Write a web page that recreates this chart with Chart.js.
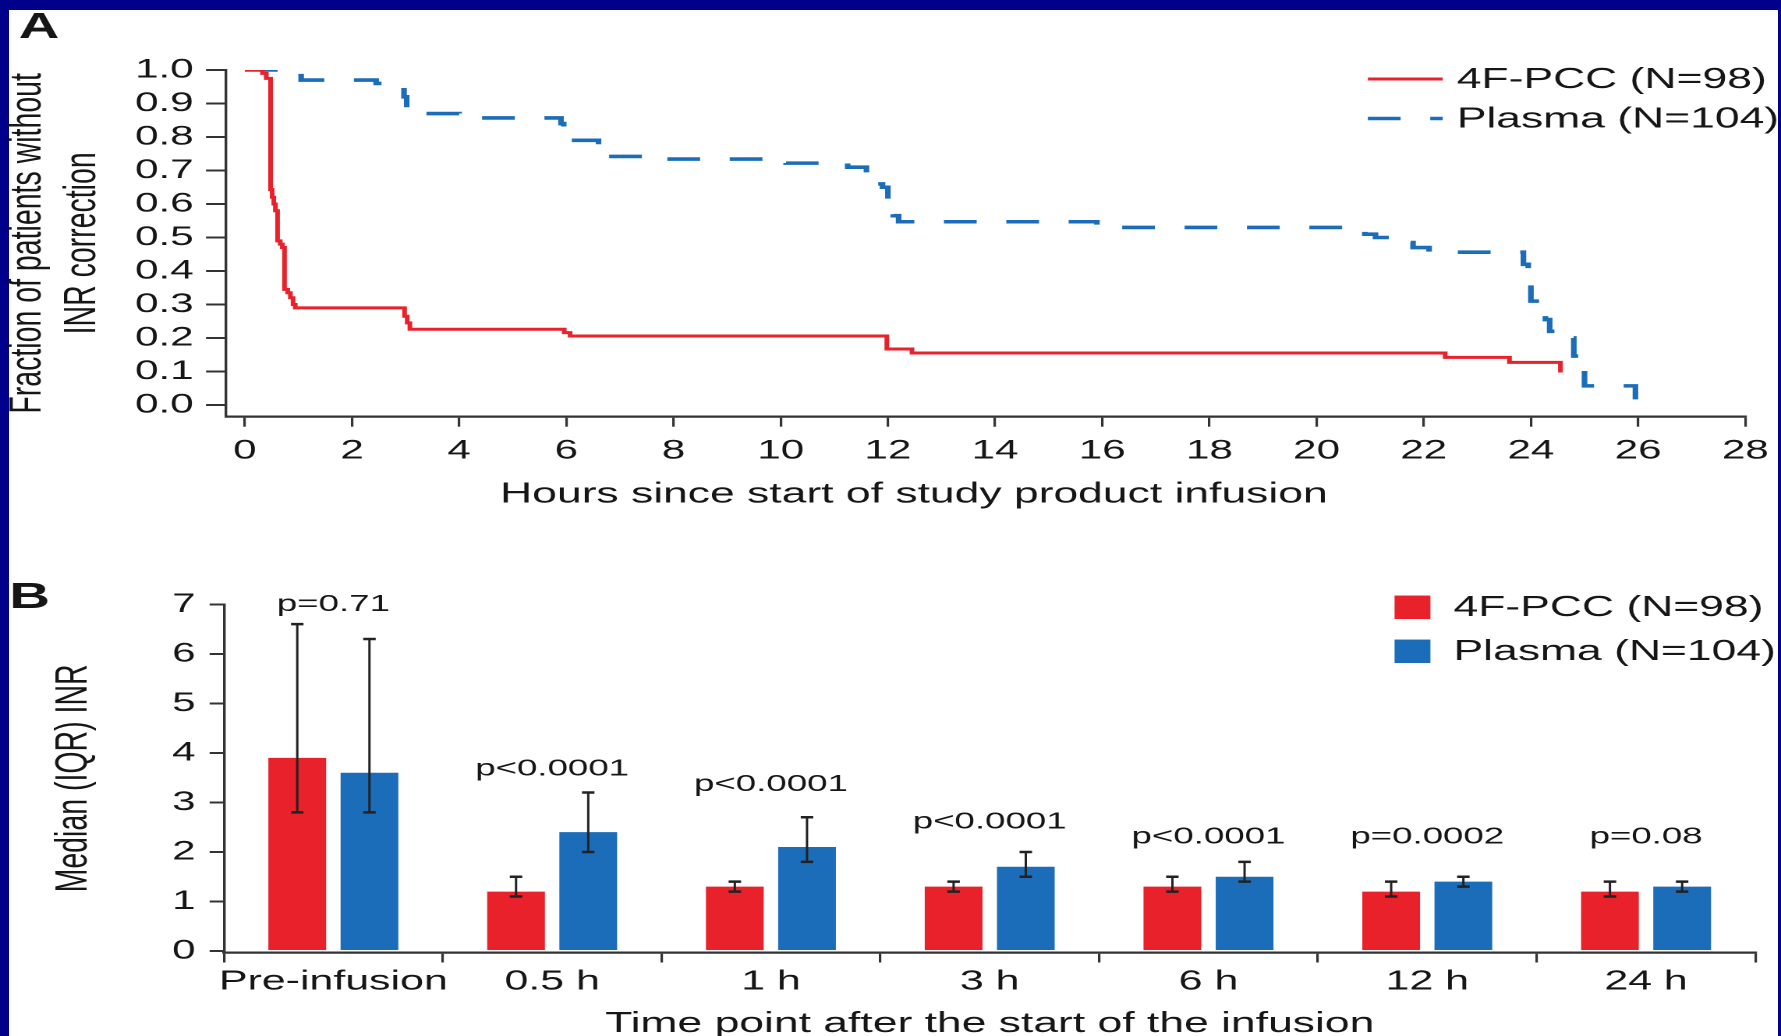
<!DOCTYPE html>
<html>
<head>
<meta charset="utf-8">
<script src="https://cdn.jsdelivr.net/npm/chart.js@4.4.0/dist/chart.umd.min.js"></script>
<style>
  html, body { margin: 0; padding: 0; }
  body { width: 1781px; height: 1036px; background: #00008b; position: relative; overflow: hidden; }
  #panel { position: absolute; left: 9px; top: 10px; width: 1769px; height: 1026px; background: #fff; }
  canvas { position: absolute; left: 0; }
</style>
</head>
<body>
<div id="panel"></div>
<!-- the figure is horizontally stretched, so each canvas is drawn narrower and widened by CSS -->
<canvas id="chartA" width="1142" height="520" style="top:0;width:1781px;height:520px"></canvas>
<canvas id="chartB" width="1142" height="516" style="top:520px;width:1781px;height:516px"></canvas>
<script>
// Panel A: fraction of patients without INR correction (step curves)
const hourTicks = [0, 2, 4, 6, 8, 10, 12, 14, 16, 18, 20, 22, 24, 26, 28];
const fractionTicks = [0, 0.1, 0.2, 0.3, 0.4, 0.5, 0.6, 0.7, 0.8, 0.9, 1.0];

const pccHours = [0, 0.33, 0.40, 0.48, 0.51, 0.54, 0.57, 0.61, 0.66, 0.70, 0.74, 0.80, 0.85, 0.90, 0.94,
                  2.98, 3.03, 3.08, 5.96, 6.07, 11.98, 12.45, 22.4, 23.6, 24.55];
const pccFraction = [1.0, 0.99, 0.975, 0.643, 0.62, 0.60, 0.58, 0.49, 0.48, 0.47, 0.345, 0.335, 0.32, 0.30, 0.29,
                     0.265, 0.245, 0.226, 0.216, 0.206, 0.167, 0.155, 0.142, 0.127, 0.097];

const plasmaHours = [0, 1.05, 2.45, 2.97, 3.02, 3.10, 4.0, 5.9, 5.95, 6.0, 6.05, 6.6, 6.65, 7.75, 10.1, 11.25,
                     11.6, 11.8, 11.9, 12.0, 12.1, 12.2, 15.9, 20.8, 20.9, 21.1, 21.4, 21.8, 22.1,
                     23.86, 23.95, 24.0, 24.27, 24.35, 24.6, 24.8, 25.0, 25.95];
const plasmaFraction = [1.0, 0.97, 0.96, 0.92, 0.88, 0.87, 0.857, 0.84, 0.82, 0.80, 0.79, 0.76, 0.742, 0.734, 0.722, 0.71,
                        0.68, 0.66, 0.65, 0.58, 0.565, 0.547, 0.53, 0.52, 0.51, 0.50, 0.485, 0.47, 0.456,
                        0.42, 0.37, 0.31, 0.255, 0.22, 0.20, 0.146, 0.057, 0.0];

// Panel B: median (IQR) INR by time point
const timePoints = ['Pre-infusion', '0.5 h', '1 h', '3 h', '6 h', '12 h', '24 h'];
const inrTicks = [0, 1, 2, 3, 4, 5, 6, 7];
const pccMedian = [3.9, 1.2, 1.3, 1.3, 1.3, 1.2, 1.2];
const pccQ1 = [2.8, 1.1, 1.2, 1.2, 1.2, 1.1, 1.1];
const pccQ3 = [6.6, 1.5, 1.4, 1.4, 1.5, 1.4, 1.4];
const plasmaMedian = [3.6, 2.4, 2.1, 1.7, 1.5, 1.4, 1.3];
const plasmaQ1 = [2.8, 2.0, 1.8, 1.5, 1.4, 1.3, 1.2];
const plasmaQ3 = [6.3, 3.2, 2.7, 2.0, 1.8, 1.5, 1.4];
const pValues = ['p=0.71', 'p<0.0001', 'p<0.0001', 'p<0.0001', 'p<0.0001', 'p=0.0002', 'p=0.08'];
const pLabelLevel = [7.0, 3.67, 3.36, 2.60, 2.30, 2.30, 2.30];

const RED = '#e8212b';
const BLUE = '#1c6db9';
const INK = '#161616';
const AXIS = '#333333';
const FONT = '"Liberation Sans", Arial, Helvetica, sans-serif';

Chart.defaults.font.family = FONT;
Chart.defaults.color = INK;

function toPoints(xs, ys) {
    return xs.map((x, i) => ({ x: x, y: ys[i] }));
}

// bold "A" / "B" in the corner
const panelLetter = {
    id: 'panelLetter',
    afterDraw(chart, args, opts) {
        const ctx = chart.ctx;
        ctx.save();
        ctx.font = `bold ${opts.size}px ${FONT}`;
        ctx.fillStyle = INK;
        ctx.textBaseline = 'alphabetic';
        ctx.fillText(opts.text, opts.x, opts.y);
        ctx.restore();
    }
};

// x-axis caption of panel A sits left of the axis centre
const offsetCaption = {
    id: 'offsetCaption',
    afterDraw(chart, args, opts) {
        const { ctx, chartArea } = chart;
        ctx.save();
        ctx.font = `${opts.size}px ${FONT}`;
        ctx.fillStyle = INK;
        ctx.textAlign = 'center';
        ctx.textBaseline = 'middle';
        ctx.fillText(opts.text, (chartArea.left + chartArea.right) / 2 + opts.dx, opts.y);
        ctx.restore();
    }
};

// legend drawn inside the plot, top right
const insideLegend = {
    id: 'insideLegend',
    afterDraw(chart, args, opts) {
        const { ctx, chartArea } = chart;
        ctx.save();
        ctx.font = `${opts.fontSize}px ${FONT}`;
        ctx.textBaseline = 'middle';
        chart.data.datasets.forEach((ds, i) => {
            const y = chartArea.top + opts.rows[i];
            const x0 = chartArea.right - opts.markerStart;
            if (opts.marker === 'line') {
                ctx.strokeStyle = ds.borderColor;
                ctx.lineWidth = ds.borderWidth;
                ctx.setLineDash(ds.borderDash || []);
                ctx.beginPath();
                ctx.moveTo(x0, y);
                ctx.lineTo(x0 + opts.markerWidth, y);
                ctx.stroke();
                ctx.setLineDash([]);
            } else {
                ctx.fillStyle = ds.backgroundColor;
                ctx.fillRect(x0, y - opts.markerHeight / 2, opts.markerWidth, opts.markerHeight);
            }
            ctx.fillStyle = INK;
            ctx.fillText(ds.label, chartArea.right - opts.textStart, y + 1);
        });
        ctx.restore();
    }
};

// IQR whiskers on the bars
const iqrWhiskers = {
    id: 'iqrWhiskers',
    afterDatasetsDraw(chart) {
        const ctx = chart.ctx;
        const y = chart.scales.y;
        ctx.save();
        ctx.strokeStyle = '#222';
        chart.data.datasets.forEach((ds, i) => {
            chart.getDatasetMeta(i).data.forEach((bar, j) => {
                const top = y.getPixelForValue(ds.iqrHigh[j]);
                const bottom = y.getPixelForValue(ds.iqrLow[j]);
                ctx.lineWidth = 1.5;
                ctx.beginPath();
                ctx.moveTo(bar.x, top);
                ctx.lineTo(bar.x, bottom);
                ctx.stroke();
                ctx.lineWidth = 2.5;
                ctx.beginPath();
                ctx.moveTo(bar.x - 4, top);
                ctx.lineTo(bar.x + 4, top);
                ctx.moveTo(bar.x - 4, bottom);
                ctx.lineTo(bar.x + 4, bottom);
                ctx.stroke();
            });
        });
        ctx.restore();
    }
};

// p-values above each group
const pValueLabels = {
    id: 'pValueLabels',
    afterDatasetsDraw(chart) {
        const { ctx, scales: { x, y } } = chart;
        ctx.save();
        ctx.font = `23.5px ${FONT}`;
        ctx.fillStyle = INK;
        ctx.textAlign = 'center';
        ctx.textBaseline = 'middle';
        pValues.forEach((text, i) => {
            ctx.fillText(text, x.getPixelForValue(i), y.getPixelForValue(pLabelLevel[i]));
        });
        ctx.restore();
    }
};

const tickGrid = (len) => ({ display: true, drawOnChartArea: false, drawTicks: true, tickLength: len, color: AXIS, lineWidth: 1.6 });

new Chart(document.getElementById('chartA'), {
    type: 'line',
    data: {
        datasets: [{
            label: '4F-PCC (N=98)',
            data: toPoints(pccHours, pccFraction),
            borderColor: RED,
            borderWidth: 3,
            stepped: true,
            pointRadius: 0,
            fill: false
        },
        {
            label: 'Plasma (N=104)',
            data: toPoints(plasmaHours, plasmaFraction),
            borderColor: BLUE,
            borderWidth: 3.6,
            borderDash: [21, 19],
            stepped: true,
            pointRadius: 0,
            fill: false
        }]
    },
    options: {
        responsive: false,
        animation: false,
        devicePixelRatio: 2,
        layout: { padding: { left: 0, top: 70, right: 15.7, bottom: 0 } },
        plugins: {
            legend: { display: false },
            tooltip: { enabled: false },
            panelLetter: { text: 'A', x: 12, y: 38, size: 36 },
            offsetCaption: { text: 'Hours since start of study product infusion', size: 28.5, dx: -46, y: 494.5 },
            insideLegend: { marker: 'line', fontSize: 28.5, rows: [9, 48.5], markerStart: 242, markerWidth: 48, textStart: 185 }
        },
        scales: {
            x: {
                type: 'linear',
                min: -0.352,
                max: 28,
                afterBuildTicks: function(scale) {
                    scale.ticks = hourTicks.map(v => ({ value: v }));
                },
                afterFit: function(scale) { scale.height = 103.3; },
                grid: tickGrid(10),
                border: { display: true, color: AXIS, width: 2.2 },
                ticks: { font: { size: 27 }, padding: 7.9, maxRotation: 0, autoSkip: false, callback: v => String(v) },
                title: { display: false }
            },
            y: {
                min: -0.035,
                max: 1,
                afterBuildTicks: function(scale) {
                    scale.ticks = fractionTicks.map(v => ({ value: v }));
                },
                afterFit: function(scale) { scale.width = 144.9; },
                grid: Object.assign(tickGrid(12.8), { lineWidth: 2 }),
                border: { display: true, color: AXIS, width: 1.7 },
                ticks: { font: { size: 27 }, padding: 8, autoSkip: false, callback: v => v.toFixed(1) },
                title: {
                    display: true,
                    text: ['Fraction of patients without', 'INR correction'],
                    font: { size: 28.5, lineHeight: 1.22 },
                    padding: { top: 1, bottom: 0 }
                }
            }
        }
    },
    plugins: [panelLetter, offsetCaption, insideLegend]
});

new Chart(document.getElementById('chartB'), {
    type: 'bar',
    data: {
        labels: timePoints,
        datasets: [{
            label: '4F-PCC (N=98)',
            data: pccMedian,
            iqrLow: pccQ1,
            iqrHigh: pccQ3,
            backgroundColor: RED,
            categoryPercentage: 0.66,
            barPercentage: 0.8
        },
        {
            label: 'Plasma (N=104)',
            data: plasmaMedian,
            iqrLow: plasmaQ1,
            iqrHigh: plasmaQ3,
            backgroundColor: BLUE,
            categoryPercentage: 0.66,
            barPercentage: 0.8
        }]
    },
    options: {
        responsive: false,
        animation: false,
        devicePixelRatio: 2,
        layout: { padding: { left: 0, top: 84.3, right: 16.4, bottom: 0 } },
        plugins: {
            legend: { display: false },
            tooltip: { enabled: false },
            panelLetter: { text: 'B', x: 6, y: 88, size: 36 },
            insideLegend: { marker: 'box', fontSize: 28.5, rows: [3, 47], markerStart: 231.4, markerWidth: 23, markerHeight: 23.5, textStart: 193.6 }
        },
        scales: {
            x: {
                afterFit: function(scale) { scale.height = 83.5; },
                grid: Object.assign(tickGrid(10), { offset: true }),
                border: { display: true, color: AXIS, width: 2.2 },
                ticks: { font: { size: 27.5 }, padding: 3, maxRotation: 0, autoSkip: false },
                title: {
                    display: true,
                    text: 'Time point after the start of the infusion',
                    font: { size: 28.5 },
                    padding: { top: 0, bottom: -5 }
                }
            },
            y: {
                min: -0.03,
                max: 7,
                afterBuildTicks: function(scale) {
                    scale.ticks = inrTicks.map(v => ({ value: v }));
                },
                afterFit: function(scale) { scale.width = 143.6; },
                grid: Object.assign(tickGrid(9.2), { lineWidth: 2 }),
                border: { display: true, color: AXIS, width: 1.7 },
                ticks: { font: { size: 27 }, padding: 9, autoSkip: false, callback: v => String(v) },
                title: {
                    display: true,
                    text: 'Median (IQR) INR',
                    font: { size: 28.5 },
                    padding: { top: 30.5, bottom: 0 }
                }
            }
        }
    },
    plugins: [panelLetter, insideLegend, iqrWhiskers, pValueLabels]
});
</script>
</body>
</html>
